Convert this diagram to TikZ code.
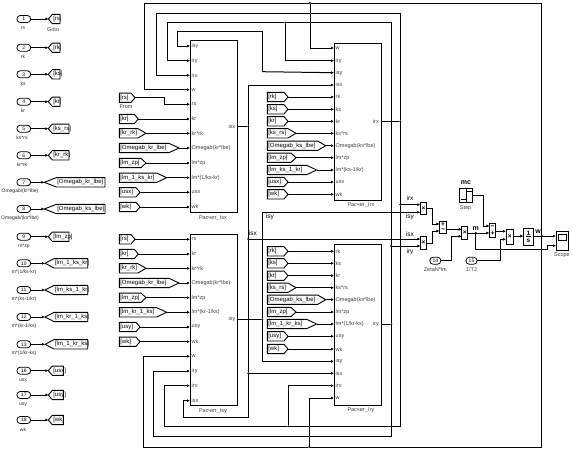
\documentclass[tikz,border=0pt]{standalone}
\usepackage{fontspec}
\setmainfont{Liberation Sans}
\usetikzlibrary{arrows.meta,shapes.symbols}
\tikzset{
  wire/.style={line width=1pt,-{Latex[length=3pt,width=3pt]}},
  seg/.style={line width=1pt},
  blk/.style={draw,line width=1pt,fill=white,inner sep=0pt,outer sep=0pt},
  plab/.style={inner sep=0pt,text=black!75,font=\fontsize{5.5}{5.5}\selectfont},
  dlab/.style={inner sep=0pt,font=\fontsize{6.5}{6.5}\selectfont},
  tagn/.style={signal,draw,line width=0.9pt,fill=white,inner xsep=1pt,inner ysep=0pt,outer sep=0pt,
     minimum height=9.3pt,align=left,font=\fontsize{6}{6}\selectfont},
  inp/.style={draw,line width=0.8pt,rounded corners=3.3pt,minimum width=13.7pt,minimum height=7pt,inner sep=0pt,outer sep=0pt,
     font=\fontsize{5}{5}\selectfont},
  jct/.style={circle,fill=black,inner sep=0pt,minimum size=2.2pt,outer sep=0pt},
  opsign/.style={inner sep=0pt,font=\fontsize{6.5}{6.5}\selectfont\bfseries}
}
% name, flat x, y, tip x, pointer length, text
\newcommand\fromtag[6]{%
  \pgfmathsetmacro\tw{#4-#2-#5-2}%
  \pgfmathsetmacro\ang{2*atan(4.65/#5)}%
  \node[tagn,signal to=east,signal pointer angle=\ang,text width=\tw pt,anchor=east] (#1) at (#4,#3) {#6};}
% name, tip x, y, flat x, pointer length, text
\newcommand\gototag[6]{%
  \pgfmathsetmacro\tw{#4-#2-#5-2}%
  \pgfmathsetmacro\ang{2*atan(4.65/#5)}%
  \node[tagn,signal to=west,signal pointer angle=\ang,text width=\tw pt,anchor=west] (#1) at (#2,#3) {#6};}
\newcommand\rectblk[5]{%
  \pgfmathsetmacro\bw{#4-#2}\pgfmathsetmacro\bh{#5-#3}%
  \pgfmathsetmacro\bx{(#2+#4)/2}\pgfmathsetmacro\by{(#3+#5)/2}%
  \node[blk,minimum width=\bw pt,minimum height=\bh pt] (#1) at (\bx,\by) {};}
\newcommand\ports[3]{%
  \foreach \py/\pl [count=\pn] in {#3} {
    \coordinate (#1-\pn) at (#2,\py);
    \node[plab,anchor=west] (#1-l\pn) at (#2+1.5,\py) {\pl};
  }}
\newcommand\inrow[8]{% number, y, label, labelx, tagtip, tagend, L, text
  \node[inp] (in#1) at (23.8,#2) {#1};
  \node[plab,text=black!85,font=\fontsize{5}{5}\selectfont] (inl#1) at (#4,#2+9.3) {#3};
  \gototag{go#1}{#5}{#2}{#6}{#7}{#8}
  \draw[wire] (in#1.east) -- (go#1.west);}
% target port, y, left x, tip x, pointer length, text
\newcommand\feed[6]{%
  \fromtag{t#1}{#3}{#2}{#4}{#5}{#6}
  \draw[wire] (t#1.east) -- (#1);}
\begin{document}
\begin{tikzpicture}[x=1pt,y=-1pt]
\useasboundingbox (0,0) rectangle (572,450);
\fill[white] (0,0) rectangle (572,450);

% source column
\inrow{1}{19}{rs}{23}{48.3}{60}{4}{[rs]}
\inrow{2}{47.7}{rk}{23}{48.3}{60}{4}{[rk]}
\inrow{3}{74.3}{ks}{23}{48.3}{60}{4}{[ks]}
\inrow{4}{101.7}{kr}{23}{48.3}{60}{4}{[kr]}
\inrow{5}{128.7}{ks*rs}{22}{48.3}{69}{4}{[ks\_rs]}
\inrow{6}{155.3}{kr*rk}{22}{48.3}{69}{4}{[kr\_rk]}
\inrow{7}{182.3}{Omegab/(kr*lbe)}{20}{44.3}{105}{12}{[Omegab\_kr\_lbe]}
\inrow{8}{209}{Omegab/(ks*lbe)}{20}{44.3}{105}{12}{[Omegab\_ks\_lbe]}
\inrow{9}{236.7}{m*zp}{24}{48.3}{69}{4}{[lm\_zp]}
\inrow{10}{263.3}{m*(1/ks-kr)}{24}{45}{87.7}{9}{[lm\_1\_ks\_kr]}
\inrow{11}{290}{m*(ks-1/kr)}{24}{45}{87.7}{9}{[lm\_ks\_1\_kr]}
\inrow{12}{317}{m*(kr-1/ks)}{24}{45}{87.7}{9}{[lm\_kr\_1\_ks]}
\inrow{13}{344.3}{m*(1/kr-ks)}{24}{45}{87.7}{9}{[lm\_1\_kr\_ks]}
\inrow{16}{370.7}{usx}{23}{48.3}{63.3}{4}{[usx]}
\inrow{17}{395}{usy}{23}{48.3}{63.3}{4}{[usy]}
\inrow{18}{420}{wk}{23}{48.3}{63.3}{4}{[wk]}
\node[plab] (gotolab) at (53,30) {Goto};

% main blocks
\rectblk{isx}{190}{40.7}{237.7}{212}
\rectblk{isy}{190}{234.3}{237.7}{405.7}
\rectblk{jrx}{334}{43.3}{381.3}{200.3}
\rectblk{jry}{334}{244.3}{381.3}{405.3}
\ports{isx}{190}{46/isy,60.7/iry,75.3/irx,89.7/w,104.3/rs,119/kr,133.3/kr*rk,148/Omegab(kr*lbe),163/lm*zp,177.7/{lm*(1/ks-kr)},192.3/usx,207/wk}
\ports{isy}{190}{239.3/rs,254/kr,268.3/kr*rk,283/Omegab(kr*lbe),297.7/lm*zp,312.3/{lm*(kr-1/ks)},327/usy,341.7/wk,356.3/w,371/iry,385.7/irx,400.7/isx}
\ports{jrx}{334}{48/w,60.7/iry,72.7/isy,85/isx,97/rk,109.3/ks,121.3/kr,133.3/ks*rs,145.7/Omegab(ks*lbe),157.7/lm*zp,170/{lm*(ks-1/kr)},182/usx,194.3/wk}
\ports{jry}{334}{251.3/rk,263.3/ks,275.7/kr,287.7/ks*rs,299.7/Omegab(ks*lbe),312/lm*zp,324/{lm*(1/kr-ks)},336.3/usy,349/wk,361.3/isy,373.3/isx,385.7/irx,398/w}
\node[plab,anchor=east] (isxo) at (235.5,126.3) {isx};
\node[plab,anchor=east] (isyo) at (235.5,319.3) {isy};
\node[plab,anchor=east] (jrxo) at (379,121.3) {irx};
\node[plab,anchor=east] (jryo) at (379,324.3) {iry};
\coordinate (isx-o) at (237.7,126.3);
\coordinate (isy-o) at (237.7,319.3);
\coordinate (jrx-o) at (381.3,121.3);
\coordinate (jry-o) at (381.3,324.3);
\node[plab] (isxn) at (213,217.7) {Расчет\_Isx};
\node[plab] (isyn) at (213,410.7) {Расчет\_Isy};
\node[plab] (jrxn) at (361,205.3) {Расчет\_Irx};
\node[plab] (jryn) at (361,410.5) {Расчет\_Iry};

% from tags
\fromtag{trs}{119.3}{97.7}{135}{4}{[rs]}
\node[plab] (fromlab) at (126,106.7) {From};
\draw[wire] (trs.east) -- (164,97.7) -- (164,104.3) -- (isx-5);
\feed{isx-6}{119}{119.3}{138.3}{4}{[kr]}
\feed{isx-7}{133.3}{119.3}{146}{8}{[kr\_rk]}
\feed{isx-8}{148}{119.3}{179}{10}{[Omegab\_kr\_lbe]}
\feed{isx-9}{163}{119.3}{146}{5}{[lm\_zp]}
\feed{isx-10}{177.7}{119.3}{166.7}{10}{[lm\_1\_ks\_kr]}
\feed{isx-11}{192.3}{119.3}{140}{4}{[usx]}
\feed{isx-12}{207}{119.3}{140}{4}{[wk]}

\feed{isy-1}{239.3}{119.3}{135}{4}{[rs]}
\feed{isy-2}{254}{119.3}{138.3}{4}{[kr]}
\feed{isy-3}{268.3}{119.3}{146}{8}{[kr\_rk]}
\feed{isy-4}{283}{119.3}{179}{10}{[Omegab\_kr\_lbe]}
\feed{isy-5}{297.7}{119.3}{146}{5}{[lm\_zp]}
\feed{isy-6}{312.3}{119.3}{166.7}{10}{[lm\_kr\_1\_ks]}
\feed{isy-7}{327}{119.3}{140}{4}{[usy]}
\feed{isy-8}{341.7}{119.3}{140}{4}{[wk]}

\feed{jrx-5}{97}{267.3}{288}{4}{[rk]}
\feed{jrx-6}{109.3}{267.3}{288}{4}{[ks]}
\feed{jrx-7}{121.3}{267.3}{288}{4}{[kr]}
\feed{jrx-8}{133.3}{267.3}{296}{8}{[ks\_rs]}
\feed{jrx-9}{145.7}{267.3}{325.7}{8}{[Omegab\_ks\_lbe]}
\feed{jrx-10}{157.7}{267.3}{296}{5}{[lm\_zp]}
\feed{jrx-11}{170}{267.3}{316.7}{10}{[lm\_ks\_1\_kr]}
\feed{jrx-12}{182}{267.3}{288}{4}{[usx]}
\feed{jrx-13}{194.3}{267.3}{288}{4}{[wk]}

\feed{jry-1}{251.3}{267.3}{288}{4}{[rk]}
\feed{jry-2}{263.3}{267.3}{288}{4}{[ks]}
\feed{jry-3}{275.7}{267.3}{288}{4}{[kr]}
\feed{jry-4}{287.7}{267.3}{296}{8}{[ks\_rs]}
\feed{jry-5}{299.7}{267.3}{325.7}{8}{[Omegab\_ks\_lbe]}
\feed{jry-6}{312}{267.3}{296}{5}{[lm\_zp]}
\feed{jry-7}{324}{267.3}{316.7}{10}{[lm\_1\_kr\_ks]}
\feed{jry-8}{336.3}{267.3}{288}{4}{[usy]}
\feed{jry-9}{349}{267.3}{288}{4}{[wk]}

% right-hand blocks
\rectblk{pa}{420.3}{202.3}{426.7}{214.7}
\rectblk{pb}{420.3}{236.3}{426.7}{249.7}
\rectblk{sa}{439.3}{221.7}{446.7}{233.3}
\rectblk{pc}{461.7}{226}{467.7}{239.3}
\rectblk{sb}{489.3}{223}{495.7}{237.7}
\rectblk{pd}{506}{229.3}{513.3}{244}
\rectblk{intg}{523.3}{228.3}{533.3}{245.7}
\rectblk{stepb}{459.3}{188.3}{472.7}{202.5}
\rectblk{scope}{556}{231.7}{568.3}{250}
\node[inp,minimum width=11pt] (in14) at (435.3,260.7) {14};
\node[inp,minimum width=11pt] (in15) at (471.5,260.7) {15};
\node[opsign] (xa) at (pa) {×};
\node[opsign] (xb) at (pb) {×};
\node[opsign] (xc) at (pc) {×};
\node[opsign] (xd) at (pd) {×};
\node[opsign] (sa1) at (443,224.7) {+};
\node[opsign] (sa2) at (443,230.3) {−};
\node[opsign] (sb1) at (492.5,227) {−};
\node[opsign] (sb2) at (492.5,233.5) {+};
\node[opsign] (intg1) at (528.3,233) {1};
\node[opsign] (intg2) at (528.3,240.5) {s};
\draw[seg] (525.5,236.7) -- (531,236.7);
\draw[seg] (466,188.3) -- (466,202.5);
\draw[seg] (460.5,199.5) -- (466,199.5);
\draw[seg] (466,191) -- (472,191);
\fill[white,draw=black,line width=0.7pt] (558.3,234) rectangle (566,240);
\node[plab] (scopelab) at (562,255.5) {Scope};
\node[plab] (steplab) at (465.5,207.8) {Step};
\node[plab] (zetalab) at (435.3,269.5) {ZetaN*lm};
\node[plab] (tjlab) at (471.5,269.5) {1/TJ};
\node[dlab,font=\fontsize{7}{7}\selectfont\bfseries] (mclab) at (466,182.7) {mc};
\node[dlab,font=\fontsize{7}{7}\selectfont\bfseries] (mlab) at (475.7,228.5) {m};
\node[dlab,font=\fontsize{7}{7}\selectfont\bfseries] (wlab) at (538,231.5) {w};
\node[dlab] (l1) at (410,198) {irx};
\node[dlab] (l2) at (410,216.7) {isy};
\node[dlab] (l3) at (410,234.2) {isx};
\node[dlab] (l4) at (410,252) {iry};
\node[dlab] (l5) at (253,233) {isx};
\node[dlab] (l6) at (270,217) {isy};

\coordinate (pa1) at (420.3,204.7);
\coordinate (pa2) at (420.3,212.3);
\coordinate (pb1) at (420.3,239);
\coordinate (pb2) at (420.3,246);
\coordinate (sai1) at (439.3,224);
\coordinate (sai2) at (439.3,231);
\coordinate (pci1) at (461.7,229.3);
\coordinate (pci2) at (461.7,236.3);
\coordinate (sbi1) at (489.3,226);
\coordinate (sbi2) at (489.3,233);
\coordinate (pdi1) at (506,231.3);
\coordinate (pdi2) at (506,239.3);
\coordinate (sci1) at (556,236);
\coordinate (sci2) at (556,245.7);

% small chain
\draw[wire] (426.7,208) -- (432.3,208) -- (432.3,224) -- (sai1);
\draw[wire] (426.7,243) -- (432.3,243) -- (432.3,231) -- (sai2);
\draw[wire] (446.7,229.3) -- (pci1);
\draw[wire] (in14.east) -- (451,260.7) -- (451,236.3) -- (pci2);
\node[jct] (jm) at (475.7,233) {};
\draw[wire] (467.7,233) -- (sbi2);
\draw[wire] (jm) -- (475.7,249.3) -- (547.7,249.3) -- (547.7,245.7) -- (sci2);
\draw[wire] (472.7,195) -- (483.3,195) -- (483.3,226) -- (sbi1);
\draw[wire] (495.7,231.3) -- (pdi1);
\draw[wire] (in15.east) -- (500.7,260.7) -- (500.7,239.3) -- (pdi2);
\draw[wire] (513.3,236) -- (intg.west |- 0,236);
\draw[wire] (intg.east |- 0,236) -- (sci1);

% w bus
\node[jct] (jw) at (541.7,236) {};
\node[jct] (jw1) at (310,3) {};
\node[jct] (jw2) at (309.3,447) {};
\draw[seg] (jw) -- (541.7,3) -- (jw1);
\draw[seg] (jw) -- (541.7,447) -- (jw2);
\draw[wire] (jw1) -- (144.3,3) -- (144.3,89.7) -- (isx-4);
\draw[wire] (jw1) -- (310,48) -- (jrx-1);
\draw[wire] (jw2) -- (143.7,447) -- (143.7,356.3) -- (isy-9);
\draw[wire] (jw2) -- (309.3,398) -- (jry-13);

% isx
\node[jct] (js0) at (248.3,126.3) {};
\node[jct] (js1) at (248.3,239) {};
\node[jct] (js2) at (248.3,373.3) {};
\draw[seg] (isx-o) -- (js0);
\draw[wire] (js0) -- (248.3,85) -- (jrx-4);
\draw[seg] (js0) -- (js1) -- (js2);
\draw[wire] (js1) -- (pb1);
\draw[wire] (js2) -- (jry-11);
\draw[wire] (js2) -- (248.3,417) -- (183,417) -- (183,400.7) -- (isy-12);

% isy
\node[jct] (jy0) at (262.3,319.3) {};
\coordinate (jy1) at (262.3,71.7);
\draw[seg] (isy-o) -- (jy0);
\draw[wire] (jy0) -- (262.3,212.3) -- (pa2);
\draw[wire] (jy0) -- (262.3,361.3) -- (jry-10);
\draw[wire] (jy1) -- (262.3,31.7) -- (177.3,31.7) -- (177.3,46) -- (isx-1);
\draw[wire] (jy1) -- (jrx-3);

% iry
\node[jct] (jr0) at (391.3,324.3) {};
\node[jct] (jr1) at (391.3,246) {};
\node[jct] (jr2) at (285.3,22.7) {};
\draw[seg] (jry-o) -- (jr0);
\draw[seg] (jr0) -- (jr1);
\draw[wire] (jr1) -- (pb2);
\draw[seg] (jr1) -- (391.3,22.7) -- (jr2);
\draw[wire] (jr2) -- (285.3,60.7) -- (jrx-2);
\draw[wire] (jr2) -- (167.3,22.7) -- (167.3,60.7) -- (isx-2);
\draw[wire] (jr0) -- (391.3,436) -- (153.3,436) -- (153.3,371) -- (isy-10);

% irx
\node[jct] (jx0) at (400.3,121.3) {};
\node[jct] (jx1) at (400.3,204.7) {};
\node[jct] (jx2) at (288.3,426.3) {};
\draw[seg] (jrx-o) -- (jx0);
\draw[wire] (jx0) -- (400.3,13.7) -- (156,13.7) -- (156,75.3) -- (isx-3);
\draw[seg] (jx0) -- (jx1);
\draw[wire] (jx1) -- (pa1);
\draw[seg] (jx1) -- (400.3,426.3) -- (jx2);
\draw[wire] (jx2) -- (288.3,385.7) -- (jry-12);
\draw[wire] (jx2) -- (164,426.3) -- (164,385.7) -- (isy-11);
\end{tikzpicture}
\end{document}
